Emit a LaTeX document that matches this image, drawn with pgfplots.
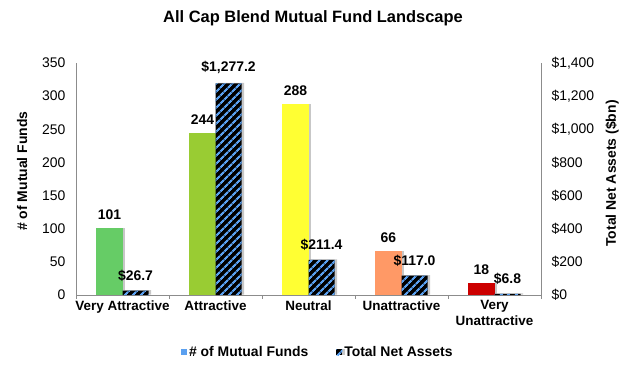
\documentclass[border=0pt]{standalone}
\usepackage{pgfplots}
\pgfplotsset{compat=1.18}
\usepackage{fontspec}
\setmainfont{Liberation Sans}
\usetikzlibrary{patterns.meta}
\definecolor{vattr}{RGB}{102,204,102}
\definecolor{attr}{RGB}{153,204,51}
\definecolor{neut}{RGB}{255,255,51}
\definecolor{unattr}{RGB}{255,153,102}
\definecolor{vunattr}{RGB}{204,0,0}
\definecolor{stripe}{RGB}{90,160,240}
\definecolor{axgray}{RGB}{140,140,140}
\begin{document}
\begin{tikzpicture}
\useasboundingbox (0,0) rectangle (630bp,369bp);
\node[font=\fontsize{16.5}{19}\selectfont\bfseries] at (313bp,351bp) {All Cap Blend Mutual Fund Landscape};
\pgfplotsset{
  fundbar/.style={bar shift=-0.14, draw=none, preaction={fill=black!22, transform canvas={xshift=2.5bp,yshift=0.5bp}}},
}
\begin{axis}[
  at={(76bp,74bp)}, anchor=south west,
  scale only axis, width=465bp, height=232bp,
  xmin=-0.5, xmax=4.5, ymin=0, ymax=350,
  ytick={0,50,...,350},
  xtick={0,...,4},
  xticklabels={Very Attractive,Attractive,Neutral,Unattractive,Very\\Unattractive},
  xticklabel style={align=center, font=\fontsize{13.5}{16}\selectfont\bfseries, yshift=-2bp},
  yticklabel style={font=\fontsize{14}{16}\selectfont, xshift=-7bp},
  /pgf/number format/assume math mode=true,
  major tick length=0pt,
  extra x ticks={-0.5,0.5,1.5,2.5,3.5,4.5},
  extra x tick labels={},
  extra x tick style={major tick length=4bp, tick align=outside, tick style={axgray, line width=0.8bp}},
  axis x line*=bottom, axis y line*=left,
  axis line style={axgray, line width=0.8bp},
  ybar, bar width=0.28,
  nodes near coords,
  every node near coord/.append style={font=\fontsize{14}{16}\selectfont\bfseries, yshift=5bp, text=black},
  ylabel={\# of Mutual Funds},
  every axis y label/.style={at={(axis description cs:-0.116,0.534)}, rotate=90, anchor=center, font=\fontsize{14}{16}\selectfont\bfseries},
  clip=false,
]
\addplot[fundbar, fill=vattr] coordinates {(0,101)};
\addplot[fundbar, fill=attr] coordinates {(1,244)};
\addplot[fundbar, fill=neut] coordinates {(2,288)};
\addplot[fundbar, fill=unattr] coordinates {(3,66)};
\addplot[fundbar, fill=vunattr] coordinates {(4,18)};
\end{axis}
\begin{axis}[
  at={(76bp,74bp)}, anchor=south west,
  scale only axis, width=465bp, height=232bp,
  xmin=-0.5, xmax=4.5, ymin=0, ymax=1400,
  axis x line=none, axis y line*=right,
  axis line style={axgray, line width=0.8bp},
  ytick={0,200,...,1400},
  yticklabels={\$0,\$200,\$400,\$600,\$800,{\$1,000},{\$1,200},{\$1,400}},
  yticklabel style={font=\fontsize{14}{16}\selectfont, xshift=7bp},
  major tick length=0pt,
  ybar, bar width=0.28,
  nodes near coords, point meta=explicit symbolic,
  every node near coord/.append style={font=\fontsize{14}{16}\selectfont\bfseries, yshift=6bp, text=black},
  ylabel={Total Net Assets (\$bn)},
  every axis y label/.style={at={(axis description cs:1.153,0.524)}, rotate=90, anchor=center, font=\fontsize{14}{16}\selectfont\bfseries},
  legend style={at={(axis description cs:0.52,-0.246)}, anchor=center, draw=none, fill=none,
    font=\fontsize{14}{16}\selectfont\bfseries, legend columns=2,
    /tikz/every even column/.append style={column sep=26bp}},
  legend image code/.code={\fill[#1] (0bp,-3bp) rectangle (6bp,3bp);},
  clip=false,
]
\addlegendimage{fill=stripe, draw=none}
\addlegendentry{\# of Mutual Funds}
\addplot[bar shift=0.14, draw=none, fill=black,
  preaction={fill=black!22, transform canvas={xshift=2.5bp,yshift=0.5bp}},
  postaction={pattern={Lines[angle=45,distance=6bp,line width=2.4bp]}, pattern color=stripe}]
  coordinates {(0,26.7) [\$26.7] (1,1277.2) [\$1,277.2] (2,211.4) [\$211.4] (3,117.0) [\$117.0] (4,6.8) [\$6.8]};
\addlegendentry{Total Net Assets}
\end{axis}
\end{tikzpicture}
\end{document}
